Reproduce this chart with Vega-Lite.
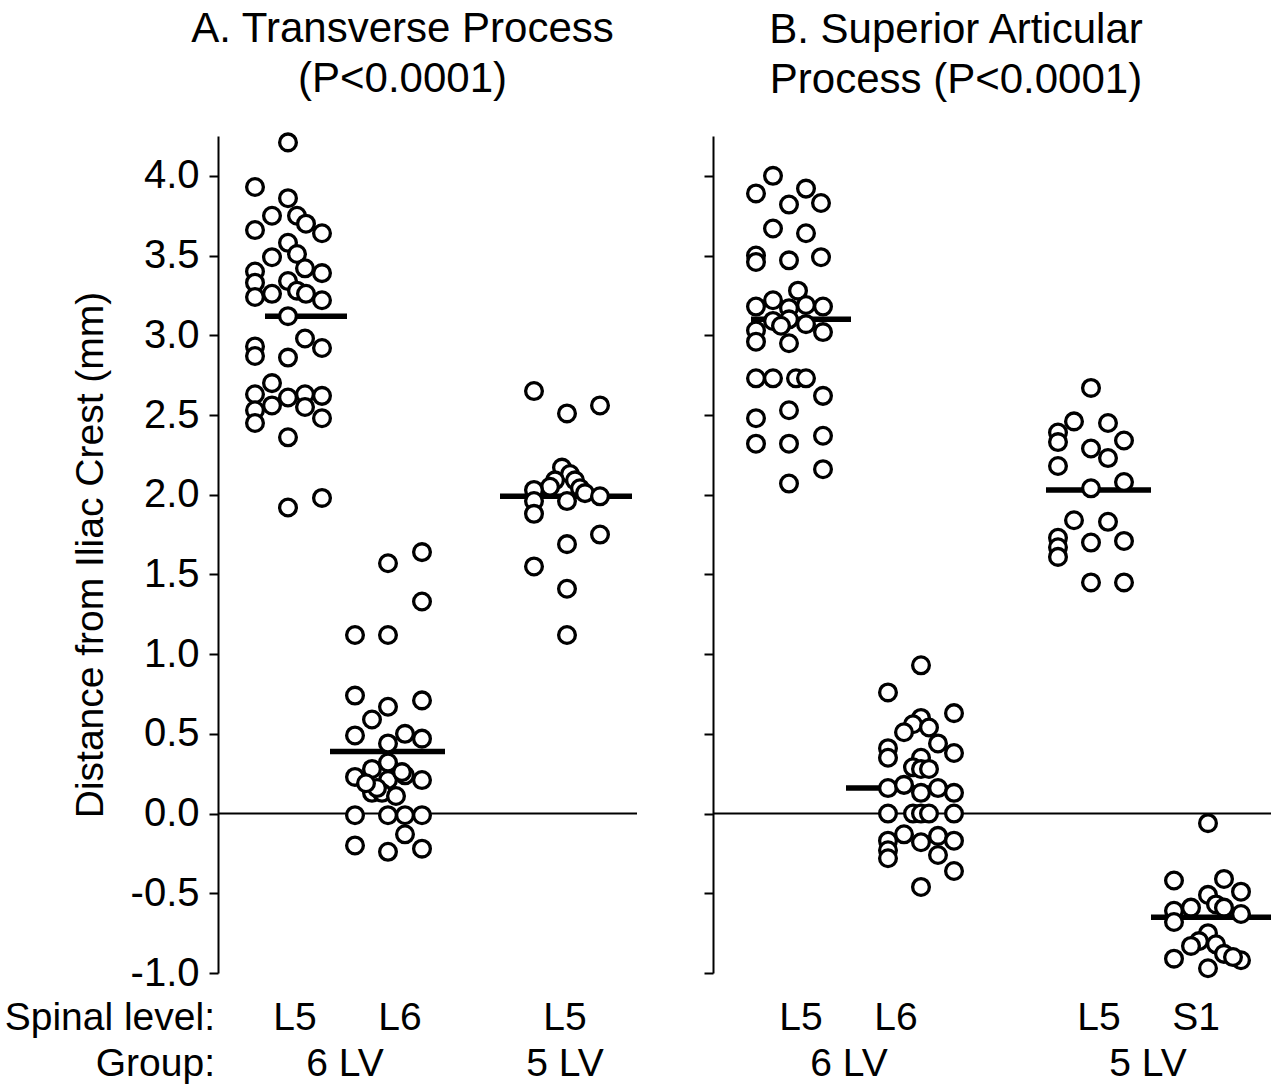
{
  "$schema": "https://vega.github.io/schema/vega-lite/v6.json",
  "background": "white",
  "padding": {"left": 4, "top": 8, "right": 2, "bottom": 0},
  "config": {
    "font": "Liberation Sans",
    "view": {"stroke": null},
    "concat": {"spacing": 65}
  },
  "datasets": {
    "ptsA": [
      {"x": 1.00, "y": 4.21}, {"x": 0.67, "y": 3.93}, {"x": 1.00, "y": 3.86}, {"x": 0.84, "y": 3.75},
      {"x": 1.09, "y": 3.75}, {"x": 1.18, "y": 3.70}, {"x": 0.67, "y": 3.66}, {"x": 1.34, "y": 3.64},
      {"x": 1.00, "y": 3.58}, {"x": 0.84, "y": 3.49}, {"x": 1.09, "y": 3.51}, {"x": 0.67, "y": 3.40},
      {"x": 1.17, "y": 3.42}, {"x": 1.34, "y": 3.39}, {"x": 0.67, "y": 3.33}, {"x": 1.00, "y": 3.34},
      {"x": 0.84, "y": 3.26}, {"x": 1.09, "y": 3.28}, {"x": 1.18, "y": 3.26}, {"x": 0.67, "y": 3.24},
      {"x": 1.34, "y": 3.22}, {"x": 1.00, "y": 3.12}, {"x": 0.67, "y": 2.93}, {"x": 0.67, "y": 2.87},
      {"x": 1.00, "y": 2.86}, {"x": 1.17, "y": 2.98}, {"x": 1.34, "y": 2.92}, {"x": 0.84, "y": 2.70},
      {"x": 0.67, "y": 2.63}, {"x": 1.00, "y": 2.61}, {"x": 1.17, "y": 2.63}, {"x": 1.34, "y": 2.62},
      {"x": 0.84, "y": 2.56}, {"x": 0.67, "y": 2.53}, {"x": 1.17, "y": 2.55}, {"x": 0.67, "y": 2.45},
      {"x": 1.34, "y": 2.48}, {"x": 1.00, "y": 2.36}, {"x": 1.00, "y": 1.92}, {"x": 1.34, "y": 1.98},
      {"x": 2.00, "y": 1.57}, {"x": 2.34, "y": 1.64}, {"x": 2.34, "y": 1.33}, {"x": 1.67, "y": 1.12},
      {"x": 2.00, "y": 1.12}, {"x": 1.67, "y": 0.74}, {"x": 2.34, "y": 0.71}, {"x": 2.00, "y": 0.67},
      {"x": 1.84, "y": 0.59}, {"x": 1.67, "y": 0.49}, {"x": 2.17, "y": 0.50}, {"x": 2.34, "y": 0.47},
      {"x": 2.00, "y": 0.44}, {"x": 2.00, "y": 0.32}, {"x": 1.84, "y": 0.28}, {"x": 1.67, "y": 0.23},
      {"x": 2.34, "y": 0.21}, {"x": 2.00, "y": 0.21}, {"x": 2.17, "y": 0.24}, {"x": 1.84, "y": 0.13},
      {"x": 1.94, "y": 0.13}, {"x": 2.08, "y": 0.11}, {"x": 1.89, "y": 0.16}, {"x": 2.14, "y": 0.26},
      {"x": 1.78, "y": 0.19}, {"x": 1.67, "y": -0.01}, {"x": 2.00, "y": -0.01}, {"x": 2.17, "y": -0.01},
      {"x": 2.34, "y": -0.01}, {"x": 2.17, "y": -0.13}, {"x": 1.67, "y": -0.20}, {"x": 2.00, "y": -0.24},
      {"x": 2.34, "y": -0.22},
      {"x": 3.46, "y": 2.65}, {"x": 3.79, "y": 2.51}, {"x": 4.12, "y": 2.56}, {"x": 3.74, "y": 2.17},
      {"x": 3.82, "y": 2.13}, {"x": 3.87, "y": 2.09}, {"x": 3.67, "y": 2.09}, {"x": 3.62, "y": 2.05},
      {"x": 3.92, "y": 2.04}, {"x": 3.46, "y": 2.03}, {"x": 3.97, "y": 2.01}, {"x": 4.12, "y": 1.99},
      {"x": 3.79, "y": 1.96}, {"x": 3.46, "y": 1.96}, {"x": 3.46, "y": 1.88}, {"x": 4.12, "y": 1.75},
      {"x": 3.79, "y": 1.69}, {"x": 3.46, "y": 1.55}, {"x": 3.79, "y": 1.41}, {"x": 3.79, "y": 1.12}
    ],
    "ptsB": [
      {"x": 0.75, "y": 4.00}, {"x": 0.58, "y": 3.89}, {"x": 1.08, "y": 3.92}, {"x": 0.91, "y": 3.82},
      {"x": 1.23, "y": 3.83}, {"x": 0.75, "y": 3.67}, {"x": 1.08, "y": 3.64}, {"x": 0.58, "y": 3.50},
      {"x": 0.58, "y": 3.46}, {"x": 0.91, "y": 3.47}, {"x": 1.23, "y": 3.49}, {"x": 1.00, "y": 3.28},
      {"x": 0.75, "y": 3.22}, {"x": 0.58, "y": 3.18}, {"x": 0.91, "y": 3.17}, {"x": 1.08, "y": 3.19},
      {"x": 1.25, "y": 3.18}, {"x": 0.75, "y": 3.09}, {"x": 0.91, "y": 3.10}, {"x": 1.08, "y": 3.07},
      {"x": 0.83, "y": 3.06}, {"x": 0.58, "y": 3.03}, {"x": 1.25, "y": 3.02}, {"x": 0.58, "y": 2.96},
      {"x": 0.91, "y": 2.95}, {"x": 0.58, "y": 2.73}, {"x": 0.75, "y": 2.73}, {"x": 0.98, "y": 2.73},
      {"x": 1.08, "y": 2.73}, {"x": 1.25, "y": 2.62}, {"x": 0.91, "y": 2.53}, {"x": 0.58, "y": 2.48},
      {"x": 1.25, "y": 2.37}, {"x": 0.58, "y": 2.32}, {"x": 0.91, "y": 2.32}, {"x": 1.25, "y": 2.16},
      {"x": 0.91, "y": 2.07},
      {"x": 2.23, "y": 0.93}, {"x": 1.90, "y": 0.76}, {"x": 2.56, "y": 0.63}, {"x": 2.23, "y": 0.60},
      {"x": 2.15, "y": 0.56}, {"x": 2.06, "y": 0.51}, {"x": 2.31, "y": 0.54}, {"x": 1.90, "y": 0.41},
      {"x": 2.40, "y": 0.44}, {"x": 1.90, "y": 0.35}, {"x": 2.56, "y": 0.38}, {"x": 2.23, "y": 0.35},
      {"x": 2.15, "y": 0.29}, {"x": 2.23, "y": 0.28}, {"x": 2.31, "y": 0.28}, {"x": 1.90, "y": 0.16},
      {"x": 2.06, "y": 0.18}, {"x": 2.23, "y": 0.13}, {"x": 2.40, "y": 0.16}, {"x": 2.56, "y": 0.13},
      {"x": 1.90, "y": 0.00}, {"x": 2.15, "y": 0.00}, {"x": 2.23, "y": 0.00}, {"x": 2.31, "y": 0.00},
      {"x": 2.56, "y": 0.00}, {"x": 2.06, "y": -0.13}, {"x": 1.90, "y": -0.17}, {"x": 2.23, "y": -0.18},
      {"x": 2.40, "y": -0.14}, {"x": 2.56, "y": -0.17}, {"x": 1.90, "y": -0.23}, {"x": 2.40, "y": -0.26},
      {"x": 1.90, "y": -0.28}, {"x": 2.56, "y": -0.36}, {"x": 2.23, "y": -0.46},
      {"x": 3.93, "y": 2.67}, {"x": 3.76, "y": 2.46}, {"x": 4.10, "y": 2.45}, {"x": 3.60, "y": 2.39},
      {"x": 3.60, "y": 2.33}, {"x": 4.26, "y": 2.34}, {"x": 3.93, "y": 2.29}, {"x": 4.10, "y": 2.23},
      {"x": 3.60, "y": 2.18}, {"x": 4.26, "y": 2.08}, {"x": 3.93, "y": 2.04}, {"x": 3.76, "y": 1.84},
      {"x": 4.10, "y": 1.83}, {"x": 3.60, "y": 1.73}, {"x": 4.26, "y": 1.71}, {"x": 3.93, "y": 1.70},
      {"x": 3.60, "y": 1.67}, {"x": 3.60, "y": 1.61}, {"x": 3.93, "y": 1.45}, {"x": 4.26, "y": 1.45},
      {"x": 5.10, "y": -0.06}, {"x": 4.76, "y": -0.42}, {"x": 5.26, "y": -0.41}, {"x": 5.43, "y": -0.49},
      {"x": 5.10, "y": -0.51}, {"x": 4.93, "y": -0.59}, {"x": 5.18, "y": -0.57}, {"x": 5.26, "y": -0.59},
      {"x": 4.76, "y": -0.61}, {"x": 5.43, "y": -0.63}, {"x": 4.76, "y": -0.68}, {"x": 5.10, "y": -0.75},
      {"x": 5.01, "y": -0.80}, {"x": 5.18, "y": -0.82}, {"x": 4.93, "y": -0.83}, {"x": 5.26, "y": -0.88},
      {"x": 4.76, "y": -0.91}, {"x": 5.43, "y": -0.92}, {"x": 5.10, "y": -0.97}, {"x": 5.35, "y": -0.90}
    ],
    "meansA": [
      {"x1": 0.77, "x2": 1.59, "y": 3.12},
      {"x1": 1.42, "x2": 2.57, "y": 0.39},
      {"x1": 3.12, "x2": 4.44, "y": 1.99}
    ],
    "meansB": [
      {"x1": 0.53, "x2": 1.53, "y": 3.10},
      {"x1": 1.48, "x2": 2.55, "y": 0.16},
      {"x1": 3.48, "x2": 4.53, "y": 2.03},
      {"x1": 4.53, "x2": 5.73, "y": -0.65}
    ],
    "labelsA": [
      {"text": "Spinal level:", "x": 0.27, "y": -1.28, "kind": "head"},
      {"text": "Group:", "x": 0.27, "y": -1.57, "kind": "head"},
      {"text": "L5", "x": 1.07, "y": -1.28, "kind": "cat"},
      {"text": "L6", "x": 2.12, "y": -1.28, "kind": "cat"},
      {"text": "L5", "x": 3.77, "y": -1.28, "kind": "cat"},
      {"text": "6 LV", "x": 1.57, "y": -1.57, "kind": "cat"},
      {"text": "5 LV", "x": 3.77, "y": -1.57, "kind": "cat"}
    ],
    "labelsB": [
      {"text": "L5", "x": 1.03, "y": -1.28},
      {"text": "L6", "x": 1.98, "y": -1.28},
      {"text": "L5", "x": 4.01, "y": -1.28},
      {"text": "S1", "x": 4.98, "y": -1.28},
      {"text": "6 LV", "x": 1.51, "y": -1.57},
      {"text": "5 LV", "x": 4.50, "y": -1.57}
    ]
  },
  "hconcat": [
    {
      "width": 419,
      "height": 837,
      "title": {
        "text": ["A. Transverse Process", "(P<0.0001)"],
        "fontSize": 42,
        "fontWeight": "normal",
        "lineHeight": 50,
        "dx": -25,
        "offset": 26,
        "anchor": "middle",
        "color": "black"
      },
      "layer": [
        {
          "data": {"values": [{"y": 0}]},
          "mark": {"type": "rule", "strokeWidth": 2, "color": "black"},
          "encoding": {
            "y": {"field": "y", "type": "quantitative", "scale": {"domain": [-1, 4.25], "nice": false, "zero": false},
              "axis": {
                "values": [-1, -0.5, 0, 0.5, 1, 1.5, 2, 2.5, 3, 3.5, 4],
                "labelExpr": "replace(format(datum.value, '.1f'), '\u2212', '-')",
                "title": "Distance from Iliac Crest (mm)",
                "titleFontSize": 39,
                "titleFontWeight": "normal",
                "titleColor": "black",
                "titlePadding": 20,
                "labelFontSize": 40,
                "labelColor": "black",
                "labelPadding": 10,
                "labelFlush": false,
                "labelOverlap": false,
                "tickSize": 9,
                "tickWidth": 2,
                "tickColor": "black",
                "domainWidth": 2,
                "domainColor": "black",
                "grid": false
              }
            }
          }
        },
        {
          "data": {"name": "meansA"},
          "mark": {"type": "rule", "strokeWidth": 5.5, "color": "black"},
          "encoding": {
            "x": {"field": "x1", "type": "quantitative", "scale": {"domain": [0.3, 4.49], "nice": false, "zero": false}, "axis": null},
            "x2": {"field": "x2"},
            "y": {"field": "y", "type": "quantitative"}
          }
        },
        {
          "data": {"name": "ptsA"},
          "mark": {"type": "circle", "size": 280, "fill": "white", "stroke": "black", "strokeWidth": 3.3, "opacity": 1},
          "encoding": {
            "x": {"field": "x", "type": "quantitative"},
            "y": {"field": "y", "type": "quantitative"}
          }
        },
        {
          "data": {"name": "labelsA"},
          "transform": [{"filter": "datum.kind === 'head'"}],
          "mark": {"type": "text", "fontSize": 39, "align": "right", "baseline": "middle", "color": "black"},
          "encoding": {
            "x": {"field": "x", "type": "quantitative"},
            "y": {"field": "y", "type": "quantitative"},
            "text": {"field": "text"}
          }
        },
        {
          "data": {"name": "labelsA"},
          "transform": [{"filter": "datum.kind === 'cat'"}],
          "mark": {"type": "text", "fontSize": 39, "align": "center", "baseline": "middle", "color": "black"},
          "encoding": {
            "x": {"field": "x", "type": "quantitative"},
            "y": {"field": "y", "type": "quantitative"},
            "text": {"field": "text"}
          }
        }
      ]
    },
    {
      "width": 558,
      "height": 837,
      "title": {
        "text": ["B. Superior Articular", "Process (P<0.0001)"],
        "fontSize": 42,
        "fontWeight": "normal",
        "lineHeight": 50,
        "dx": -36,
        "offset": 34,
        "anchor": "middle",
        "color": "black"
      },
      "layer": [
        {
          "data": {"values": [{"y": 0}]},
          "mark": {"type": "rule", "strokeWidth": 2, "color": "black"},
          "encoding": {
            "y": {"field": "y", "type": "quantitative", "scale": {"domain": [-1, 4.25], "nice": false, "zero": false},
              "axis": {
                "values": [-1, -0.5, 0, 0.5, 1, 1.5, 2, 2.5, 3, 3.5, 4],
                "labels": false,
                "title": null,
                "tickSize": 9,
                "tickWidth": 2,
                "tickColor": "black",
                "domainWidth": 2,
                "domainColor": "black",
                "grid": false
              }
            }
          }
        },
        {
          "data": {"name": "meansB"},
          "mark": {"type": "rule", "strokeWidth": 5.5, "color": "black"},
          "encoding": {
            "x": {"field": "x1", "type": "quantitative", "scale": {"domain": [0.15, 5.73], "nice": false, "zero": false}, "axis": null},
            "x2": {"field": "x2"},
            "y": {"field": "y", "type": "quantitative"}
          }
        },
        {
          "data": {"name": "ptsB"},
          "mark": {"type": "circle", "size": 280, "fill": "white", "stroke": "black", "strokeWidth": 3.3, "opacity": 1},
          "encoding": {
            "x": {"field": "x", "type": "quantitative"},
            "y": {"field": "y", "type": "quantitative"}
          }
        },
        {
          "data": {"name": "labelsB"},
          "mark": {"type": "text", "fontSize": 39, "align": "center", "baseline": "middle", "color": "black"},
          "encoding": {
            "x": {"field": "x", "type": "quantitative"},
            "y": {"field": "y", "type": "quantitative"},
            "text": {"field": "text"}
          }
        }
      ]
    }
  ]
}
